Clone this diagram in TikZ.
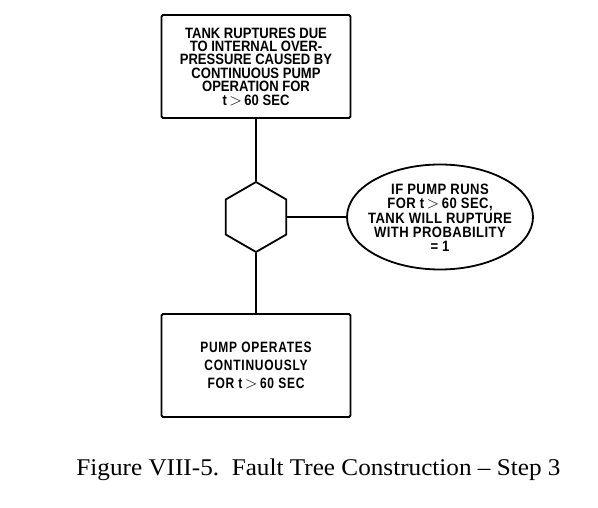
\documentclass[tikz,border=0pt]{standalone}
\usepackage{fontspec}
\usepackage{graphicx}
\usetikzlibrary{shapes.geometric}
\setmainfont{Liberation Serif}
\newfontfamily\capserif[FakeStretch=1.05,Ligatures=TeX]{Liberation Serif}
\newfontfamily\boxfont[FakeStretch=0.87]{Liberation Sans}
\newfontfamily\ellfont[FakeStretch=0.87,LetterSpace=3]{Liberation Sans}
\newfontfamily\lowfont[FakeStretch=0.8,LetterSpace=5]{Liberation Sans}
\newcommand{\gtsym}{\,\scalebox{1.15}{$>$}\,}
\begin{document}
\begin{tikzpicture}[x=1pt,y=-1pt,line width=1.8pt]
\tikzset{
  eventbox/.style={draw, rounded corners=1.5pt, minimum width=189pt, minimum height=103pt, inner sep=0pt, align=center},
  topfont/.style={font=\boxfont\bfseries\fontsize{15}{13.4}\selectfont},
  lowtext/.style={font=\lowfont\bfseries\fontsize{15}{18.3}\selectfont},
  gate/.style={draw, regular polygon, regular polygon sides=6, minimum size=70pt, inner sep=0pt, rotate=30},
  cond/.style={draw, ellipse, minimum width=186pt, minimum height=105pt, inner sep=0pt},
  condtext/.style={align=center, inner sep=0pt, font=\ellfont\bfseries\fontsize{15}{14.3}\selectfont},
  captext/.style={font=\capserif\fontsize{24}{28}\selectfont, inner sep=0pt, anchor=base}
}
\useasboundingbox (0,0) rectangle (598,508);
\node[eventbox, topfont] (top) at (256,66.5) {TANK RUPTURES DUE\\TO INTERNAL OVER-\\PRESSURE CAUSED BY\\CONTINUOUS PUMP\\OPERATION FOR\\t\gtsym60 SEC};
\node[gate] (hex) at (256,217) {};
\node[cond] (ell) at (440,217) {};
\node[condtext] (elltext) at (440,218) {IF PUMP RUNS\\FOR t\gtsym60 SEC,\\TANK WILL RUPTURE\\WITH PROBABILITY\\= 1};
\node[eventbox, lowtext] (bot) at (256,365.5) {PUMP OPERATES\\CONTINUOUSLY\\FOR t\gtsym60 SEC};
\draw (top) -- (hex);
\draw (hex) -- (bot);
\draw (hex) -- (ell);
\node[captext] (cap) at (318.5,475) {Figure VIII-5.\ \ Fault Tree Construction – Step 3};
\end{tikzpicture}
\end{document}
